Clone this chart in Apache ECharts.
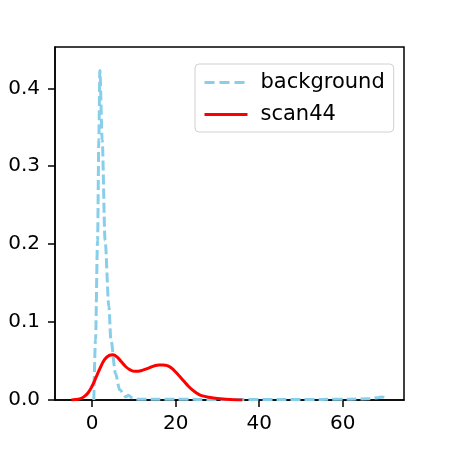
<!DOCTYPE html>
<html>
<head>
<meta charset="utf-8">
<script src="https://cdn.jsdelivr.net/npm/echarts@6/dist/echarts.min.js"></script>
<style>
  html, body { margin: 0; padding: 0; background: #fff; }
  #chart { width: 450px; height: 450px; }
</style>
</head>
<body>
<div id="chart"></div>
<script>
// background density (dashed)
const bgX = [0.4, 0.8, 1.3, 1.6, 1.85, 2.4, 3.1, 4.0, 4.5, 5.6, 6.6, 8.1, 8.7, 9.5, 11, 15, 25, 35, 45, 55, 62, 66, 68.5, 69.5, 70.3];
const bgY = [0, 0.077, 0.205, 0.334, 0.423, 0.334, 0.205, 0.12, 0.077, 0.034, 0.013, 0.004, 0.006, 0.003, 0.001, 0.001, 0.0008, 0.0008, 0.0008, 0.0008, 0.001, 0.0015, 0.003, 0.004, 0.001];

// scan44 density (solid)
const scanX = [-5, -4, -3, -2, -1, 0, 1, 2, 3, 4, 5, 6, 7, 8, 9, 10, 11, 12, 13, 14, 15, 16, 17, 18, 19, 20, 21, 22, 23, 24, 25, 26, 28, 30, 32, 34, 36];
const scanY = [0, 0.0005, 0.0015, 0.004, 0.009, 0.018, 0.03, 0.042, 0.052, 0.057, 0.058, 0.055, 0.049, 0.043, 0.039, 0.037, 0.037, 0.038, 0.04, 0.042, 0.044, 0.045, 0.045, 0.044, 0.041, 0.036, 0.03, 0.024, 0.018, 0.013, 0.009, 0.006, 0.0035, 0.0018, 0.001, 0.0004, 0.0001];

const xTicks = [0, 20, 40, 60];
const yTicks = [0, 0.1, 0.2, 0.3, 0.4];

const font = 'DejaVu Sans';
const pairs = (xs, ys) => xs.map((x, i) => [x, ys[i]]);

let myChart = echarts.init(document.getElementById('chart'));
let option = {
  animation: false,
  grid: {
    left: 55, right: 46, top: 47, bottom: 50,
    show: true, borderColor: '#000', borderWidth: 1.5
  },
  legend: {
    orient: 'vertical',
    left: 195, top: 64,
    padding: [8, 9, 7, 8],
    itemGap: 11,
    itemWidth: 43,
    itemHeight: 14,
    backgroundColor: '#fff',
    borderColor: '#d0d0d0',
    borderWidth: 1,
    borderRadius: 4,
    itemStyle: { opacity: 0 },
    textStyle: { fontFamily: font, fontSize: 21, color: '#000', padding: [0, 0, 0, 8] },
    data: [
      { name: 'background', lineStyle: { width: 3, type: [10, 5] } },
      { name: 'scan44', lineStyle: { width: 3 } }
    ]
  },
  xAxis: {
    type: 'value',
    min: -8.9, max: 74.7,
    splitLine: { show: false },
    axisLine: { onZero: false, lineStyle: { color: '#000', width: 1.5 } },
    axisTick: { length: 7, lineStyle: { color: '#000', width: 1.5 }, customValues: xTicks },
    axisLabel: { fontFamily: font, fontSize: 20, color: '#000', margin: 14, customValues: xTicks }
  },
  yAxis: {
    type: 'value',
    min: 0, max: 0.453,
    splitLine: { show: false },
    axisLine: { show: true, onZero: false, lineStyle: { color: '#000', width: 1.5 } },
    axisTick: { show: true, length: 7, lineStyle: { color: '#000', width: 1.5 }, customValues: yTicks },
    axisLabel: {
      fontFamily: font, fontSize: 20, color: '#000', margin: 15, customValues: yTicks,
      formatter: v => v.toFixed(1)
    }
  },
  series: [
    {
      name: 'background',
      type: 'line',
      symbol: 'none',
      smooth: 0.3,
      smoothMonotone: 'x',
      lineStyle: { color: '#87CEEB', width: 3, type: [10, 4] },
      itemStyle: { color: '#87CEEB' },
      data: pairs(bgX, bgY)
    },
    {
      name: 'scan44',
      type: 'line',
      symbol: 'none',
      smooth: 0.4,
      lineStyle: { color: '#FF0000', width: 3 },
      itemStyle: { color: '#FF0000' },
      data: pairs(scanX, scanY)
    }
  ]
};
myChart.setOption(option);
</script>
</body>
</html>
